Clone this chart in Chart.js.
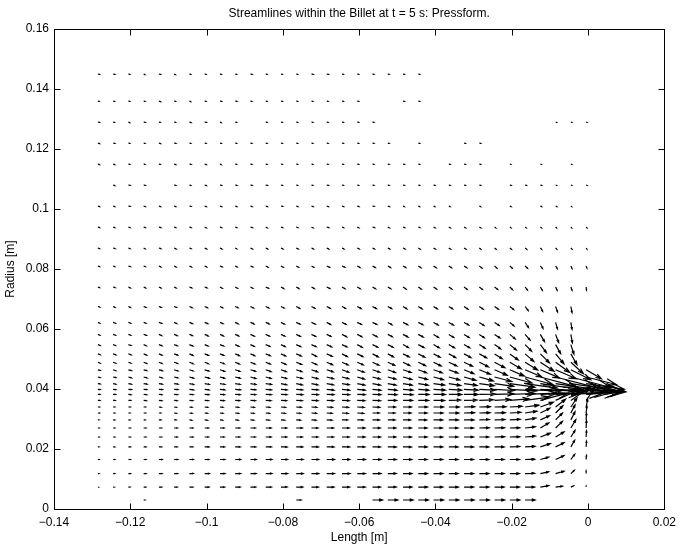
<!DOCTYPE html>
<html>
<head>
<meta charset="utf-8">
<script src="https://cdn.jsdelivr.net/npm/chart.js@4"></script>
<style>
  html, body { margin: 0; padding: 0; background: #fff; }
  #wrap { width: 682px; height: 549px; }
</style>
</head>
<body>
<div id="wrap"><canvas id="quiver" width="682" height="549"></canvas></div>
<script>
const _ = null; // no mesh node here

// mesh columns (length, m) and rows (radius, m)
const xNodes = [-0.1285, -0.1245, -0.1205, -0.1165, -0.1125, -0.1085, -0.1045, -0.1005, -0.0965, -0.0925,
  -0.0885, -0.0845, -0.0805, -0.0765, -0.0725, -0.0685, -0.0645, -0.0605, -0.0565, -0.0525,
  -0.0485, -0.0445, -0.0405, -0.0365, -0.0325, -0.0285, -0.0245, -0.0205, -0.0165, -0.0125,
  -0.0085, -0.0045, -0.0005];
const yRows = [0.145, 0.136, 0.129, 0.122, 0.115, 0.108, 0.101, 0.094, 0.087, 0.081, 0.074,
  0.0675, 0.0622, 0.0582, 0.0548, 0.0517, 0.0489, 0.0464, 0.044, 0.0418, 0.0399, 0.0382,
  0.0362, 0.034, 0.032, 0.0297, 0.027, 0.024, 0.0207, 0.0165, 0.0118, 0.0073, 0.003];

// arrow components as drawn (mm), one row per yRows entry
const U = [
  [.4,.4,.3,.3,.4, .3,.3,.3,.3,.3, .4,.3,.3,.3,.4, .4,.3,.3,.3,.3, .3,.3,_,_,_, _,_,_,_,_, _,_,_],
  [.3,.3,.3,.3,.4, .3,.3,.3,.4,.4, .3,.3,.3,.3,.3, .3,.3,.3,_,_, .3,.3,_,_,_, _,_,_,_,_, _,_,_],
  [.4,.3,.3,.4,.3, .3,.4,.4,.3,.3, _,.3,.3,.3,.3, .3,.3,.3,.3,_, _,_,_,_,_, _,_,_,_,_, .2,.2,.2],
  [.4,.4,.3,.3,.4, .4,.3,.3,.3,.3, .3,.3,.3,.3,.3, .3,.3,.3,.3,.3, _,.3,_,_,.3, .3,_,_,_,_, _,_,_],
  [.4,.4,.3,.3,.3, .4,.4,.4,.3,.3, .3,.3,.3,.3,.3, .3,.3,.3,.3,.3, .3,.3,_,.3,.3, .3,_,.2,_,.2, _,.2,_],
  [_,.4,.4,.4,_, .4,.3,.4,.4,.4, .4,.4,.3,.3,.3, .4,.3,.3,.3,.3, .3,.3,.3,.3,.3, .3,_,.3,.3,.3, .2,.2,.2],
  [.4,.4,.4,.4,.4, .4,.4,.4,.4,.4, .4,.4,.4,.4,.4, .4,.4,.4,.4,.4, .3,.3,.3,.3,_, .3,_,.3,_,.3, .3,.2,_],
  [.4,.4,.4,.4,.5, .4,.4,.4,.4,.4, .5,.4,.4,.4,.4, .5,.4,.4,.5,.4, .4,.4,.4,.4,.4, .4,.3,.3,.3,.3, .2,.2,.2],
  [.4,.5,.4,.4,.5, .5,.4,.5,.5,.4, .5,.5,.5,.5,.5, .5,.5,.5,.5,.5, .5,.5,.5,.5,.5, .4,.4,.4,.4,.3, .3,.3,.2],
  [.4,.4,.5,.4,.5, .5,.5,.5,.6,.5, .6,.6,.6,.6,.6, .7,.7,.7,.7,.7, .7,.7,.7,.7,.7, .7,.6,.6,.6,.5, .4,.3,.2],
  [.4,.5,.5,.5,.5, .5,.6,.6,.6,.6, .6,.7,.7,.7,.7, .8,.8,.8,.8,.8, .8,.8,.8,.8,.8, .8,.8,.7,.6,.5, .4,.3,.1],
  [.5,.5,.5,.6,.6, .6,.7,.7,.7,.7, .8,.8,.8,.9,.9, .9,.9,1.0,1.0,1.0, 1.0,1.0,1.0,1.0,1.0, 1.0,1.0,1.0,.8,.6, .5,.3,_],
  [.5,.6,.6,.6,.7, .7,.8,.8,.8,.8, .9,.9,.9,1.0,1.0, 1.0,1.1,1.1,1.1,1.1, 1.2,1.2,1.2,1.2,1.2, 1.2,1.2,1.1,.9,.7, .5,.3,_],
  [.5,.6,.6,.7,.7, .8,.8,.9,.9,.9, 1.0,1.0,1.0,1.1,1.1, 1.1,1.2,1.2,1.2,1.2, 1.3,1.3,1.3,1.3,1.3, 1.3,1.4,1.4,1.3,1.1, .8,.4,_],
  [.6,.6,.7,.7,.8, .8,.9,.9,1.0,1.0, 1.0,1.1,1.1,1.2,1.2, 1.3,1.3,1.3,1.4,1.4, 1.4,1.5,1.5,1.5,1.5, 1.5,1.6,1.7,1.7,1.6, 1.3,.8,_],
  [.6,.7,.7,.8,.8, .9,.9,1.0,1.0,1.1, 1.1,1.2,1.2,1.3,1.3, 1.4,1.4,1.5,1.5,1.5, 1.6,1.7,1.7,1.8,1.8, 1.9,2.0,2.2,2.3,2.4, 2.2,1.6,_],
  [.6,.7,.7,.8,.8, .9,1.0,1.0,1.1,1.1, 1.2,1.2,1.3,1.4,1.4, 1.5,1.6,1.6,1.7,1.8, 1.8,1.9,2.0,2.1,2.2, 2.4,2.7,3.0,3.3,3.6, 3.7,3.3,_],
  [.6,.7,.8,.8,.9, 1.0,1.0,1.1,1.2,1.2, 1.3,1.4,1.4,1.5,1.6, 1.7,1.8,1.8,1.9,2.0, 2.1,2.2,2.3,2.4,2.6, 2.9,3.3,3.8,4.4,5.0, 5.4,5.2,4.0],
  [.6,.7,.8,.9,.9, 1.0,1.1,1.2,1.2,1.3, 1.4,1.4,1.5,1.6,1.7, 1.8,1.8,1.9,2.0,2.1, 2.3,2.4,2.6,2.9,3.1, 3.7,4.5,5.8,7.3,9.4, 11.0,10.5,7.9],
  [.6,.7,.8,.9,.9, 1.0,1.1,1.2,1.3,1.3, 1.4,1.5,1.5,1.6,1.7, 1.8,1.9,2.0,2.1,2.2, 2.4,2.6,2.9,3.1,3.4, 3.9,5.0,6.6,8.4,11.0, 13.6,13.6,10.0],
  [.6,.7,.8,.8,.9, 1.0,1.1,1.2,1.3,1.4, 1.4,1.5,1.6,1.7,1.8, 1.9,2.0,2.1,2.2,2.4, 2.6,2.8,3.1,3.4,3.7, 4.2,5.2,7.1,9.2,12.1, 15.2,14.4,10.2],
  [.5,.6,.7,.8,.8, .9,1.0,1.1,1.2,1.3, 1.4,1.5,1.6,1.7,1.8, 1.9,2.0,2.1,2.2,2.4, 2.6,2.8,3.1,3.4,3.7, 4.2,5.0,6.6,8.4,11.0, 13.1,13.1,9.4],
  [.5,.5,.6,.7,.8, .8,.9,1.0,1.1,1.2, 1.3,1.4,1.5,1.6,1.7, 1.8,1.9,2.0,2.1,2.3, 2.5,2.7,2.9,3.1,3.4, 3.7,4.2,5.0,6.3,7.1, 6.7,5.2,2.1],
  [.4,.4,.5,.5,.6, .6,.7,.8,.8,.9, 1.0,1.1,1.2,1.3,1.4, 1.5,1.7,1.8,1.9,2.0, 2.2,2.4,2.6,2.7,2.8, 2.9,3.0,3.2,3.6,3.4, 2.6,1.6,.4],
  [.4,.4,.4,.5,.5, .6,.7,.7,.8,.9, .9,1.0,1.1,1.2,1.3, 1.4,1.6,1.7,1.8,1.9, 2.1,2.3,2.5,2.6,2.7, 2.8,2.8,2.9,3.1,2.5, 1.9,1.1,.2],
  [.3,.4,.4,.4,.5, .5,.6,.7,.7,.8, .9,1.0,1.0,1.1,1.2, 1.4,1.5,1.6,1.8,1.9, 2.0,2.2,2.4,2.5,2.6, 2.6,2.7,2.7,2.8,2.4, 1.8,1.1,.1],
  [.3,.4,.5,.6,.7, .8,.9,1.0,1.1,1.2, 1.3,1.4,1.5,1.6,1.7, 1.8,1.9,2.0,2.0,2.1, 2.2,2.3,2.3,2.4,2.5, 2.6,2.6,2.6,2.7,2.2, 1.8,1.3,.1],
  [.3,.4,.5,.6,.7, .8,.9,1.0,1.1,1.2, 1.3,1.4,1.5,1.6,1.7, 1.8,1.9,2.0,2.1,2.1, 2.2,2.3,2.4,2.4,2.5, 2.5,2.6,2.6,2.7,2.6, 2.2,1.1,.1],
  [.3,.4,.5,.6,.7, .8,.9,1.1,1.2,1.3, 1.4,1.5,1.6,1.7,1.8, 1.9,2.0,2.0,2.1,2.2, 2.2,2.3,2.4,2.4,2.5, 2.5,2.5,2.6,2.6,2.6, 2.2,1.0,.1],
  [.3,.4,.5,.6,.8, .9,1.0,1.1,1.3,1.4, 1.5,1.6,1.7,1.8,1.9, 2.0,2.0,2.1,2.2,2.2, 2.3,2.3,2.4,2.4,2.5, 2.5,2.5,2.5,2.5,2.2, 2.2,1.0,.1],
  [.3,.4,.5,.6,.8, .9,1.0,1.2,1.3,1.4, 1.5,1.6,1.7,1.8,1.9, 2.0,2.1,2.1,2.2,2.2, 2.3,2.4,2.4,2.4,2.5, 2.5,2.5,2.5,2.5,2.2, 2.2,.9,0],
  [.2,.3,.4,.5,.7, .8,.9,1.1,1.2,1.3, 1.4,1.5,1.6,1.7,1.8, 1.9,2.0,2.1,2.1,2.2, 2.3,2.4,2.4,2.5,2.5, 2.5,2.5,2.5,2.5,2.2, 1.8,.7,0],
  [_,_,_,.3,_, _,_,_,_,_, _,_,_,1.3,_, _,_,_,2.6,2.6, 2.6,2.6,2.6,2.6,2.6, 2.6,2.6,2.6,2.6,_, _,_,_]
];
const V = [
  [-.1,-.1,-.1,-.2,-.1, -.2,-.1,-.1,-.1,-.1, -.1,-.1,-.1,-.1,-.1, -.1,-.1,-.1,-.1,-.1, -.1,-.1,_,_,_, _,_,_,_,_, _,_,_],
  [-.1,-.1,-.1,-.1,-.2, -.1,-.2,-.1,-.1,-.1, -.1,-.1,-.1,-.1,-.1, -.1,-.1,-.1,_,_, -.1,-.1,_,_,_, _,_,_,_,_, _,_,_],
  [-.1,-.1,-.2,-.1,-.1, -.1,-.2,-.1,-.2,-.1, _,-.1,-.1,-.1,-.1, -.1,-.1,-.1,-.1,_, _,_,_,_,_, _,_,_,_,_, -.1,-.1,-.1],
  [-.2,-.1,-.1,-.1,-.2, -.1,-.1,-.1,-.1,-.1, -.1,-.1,-.1,-.1,-.1, -.1,-.1,-.1,-.1,-.1, _,-.1,_,_,-.1, -.1,_,_,_,_, _,_,_],
  [-.2,-.2,-.1,-.1,-.1, -.2,-.1,-.2,-.2,-.1, -.1,-.1,-.1,-.1,-.1, -.1,-.1,-.1,-.1,-.1, -.1,-.1,_,-.1,-.1, -.1,_,-.1,_,-.1, _,-.1,_],
  [_,-.2,-.1,-.1,_, -.1,-.1,-.2,-.1,-.1, -.1,-.1,-.1,-.1,-.1, -.1,-.1,-.1,-.1,-.1, -.1,-.1,-.1,-.1,-.1, -.1,_,-.1,-.1,-.1, -.1,-.1,-.1],
  [-.2,-.2,-.1,-.2,-.2, -.2,-.1,-.2,-.2,-.2, -.2,-.2,-.1,-.2,-.2, -.2,-.2,-.2,-.1,-.2, -.2,-.2,-.2,-.2,_, -.2,_,-.2,_,-.2, -.2,-.2,_],
  [-.2,-.2,-.2,-.2,-.2, -.2,-.2,-.3,-.2,-.2, -.2,-.3,-.2,-.2,-.3, -.2,-.2,-.3,-.2,-.3, -.2,-.2,-.3,-.3,-.3, -.3,-.3,-.3,-.3,-.3, -.3,-.3,-.3],
  [-.2,-.2,-.2,-.3,-.2, -.3,-.2,-.3,-.3,-.3, -.3,-.3,-.3,-.3,-.3, -.3,-.3,-.3,-.3,-.3, -.3,-.4,-.4,-.4,-.4, -.4,-.4,-.4,-.4,-.4, -.4,-.4,-.4],
  [-.2,-.2,-.2,-.2,-.3, -.3,-.3,-.3,-.3,-.3, -.3,-.4,-.4,-.4,-.4, -.4,-.4,-.5,-.5,-.5, -.5,-.6,-.6,-.6,-.6, -.7,-.7,-.7,-.7,-.8, -.8,-.8,-.7],
  [-.2,-.2,-.3,-.3,-.3, -.3,-.3,-.3,-.4,-.4, -.4,-.4,-.5,-.5,-.5, -.5,-.6,-.6,-.6,-.6, -.7,-.7,-.7,-.7,-.8, -.8,-.8,-.9,-1.0,-1.1, -1.1,-1.1,-1.0],
  [-.2,-.3,-.3,-.3,-.3, -.3,-.4,-.4,-.4,-.4, -.5,-.5,-.5,-.6,-.6, -.6,-.6,-.7,-.7,-.7, -.8,-.8,-.8,-.8,-.9, -.9,-.9,-1.0,-1.3,-1.6, -1.8,-2.0,_],
  [-.3,-.3,-.3,-.3,-.3, -.4,-.4,-.4,-.4,-.5, -.5,-.5,-.6,-.6,-.6, -.7,-.7,-.7,-.7,-.8, -.8,-.8,-.9,-.9,-.9, -1.0,-1.0,-1.2,-1.7,-2.0, -2.2,-2.3,_],
  [-.3,-.3,-.3,-.3,-.4, -.4,-.4,-.5,-.5,-.5, -.6,-.6,-.6,-.7,-.7, -.7,-.8,-.8,-.8,-.8, -.9,-.9,-1.0,-1.0,-1.0, -1.1,-1.2,-1.5,-1.9,-2.4, -2.7,-2.8,_],
  [-.3,-.3,-.3,-.4,-.4, -.4,-.5,-.5,-.5,-.6, -.6,-.6,-.7,-.7,-.7, -.8,-.8,-.9,-.9,-.9, -1.0,-1.0,-1.1,-1.1,-1.1, -1.2,-1.4,-1.8,-2.2,-2.7, -3.0,-3.2,_],
  [-.3,-.3,-.3,-.4,-.4, -.4,-.5,-.5,-.5,-.6, -.6,-.6,-.7,-.7,-.8, -.8,-.9,-.9,-1.0,-1.0, -1.0,-1.1,-1.1,-1.2,-1.2, -1.3,-1.6,-2.0,-2.5,-3.0, -3.3,-3.6,_],
  [-.3,-.3,-.3,-.4,-.4, -.4,-.5,-.5,-.5,-.6, -.6,-.6,-.7,-.7,-.8, -.8,-.9,-.9,-1.0,-1.0, -1.1,-1.1,-1.2,-1.2,-1.3, -1.5,-1.8,-2.2,-2.6,-3.0, -3.4,-3.8,_],
  [-.2,-.3,-.3,-.3,-.3, -.4,-.4,-.4,-.5,-.5, -.5,-.6,-.6,-.6,-.7, -.7,-.8,-.8,-.8,-.9, -.9,-1.0,-1.0,-1.1,-1.3, -1.5,-1.8,-2.1,-2.4,-2.7, -3.0,-3.3,-3.0],
  [-.2,-.2,-.3,-.3,-.3, -.3,-.4,-.4,-.4,-.4, -.5,-.5,-.5,-.5,-.6, -.6,-.6,-.7,-.7,-.7, -.8,-.8,-.9,-1.0,-1.1, -1.3,-1.5,-2.0,-2.5,-3.2, -3.6,-3.5,-2.5],
  [-.1,-.2,-.2,-.2,-.2, -.2,-.3,-.3,-.3,-.3, -.3,-.3,-.4,-.4,-.4, -.4,-.4,-.5,-.5,-.5, -.5,-.5,-.5,-.6,-.6, -.7,-.9,-1.2,-1.5,-2.0, -2.5,-2.6,-1.9],
  [-.1,-.1,-.1,-.1,-.1, -.1,-.2,-.2,-.2,-.2, -.2,-.2,-.2,-.2,-.2, -.3,-.3,-.3,-.3,-.3, -.3,-.3,-.3,-.3,-.3, -.3,-.4,-.5,-.6,-.8, -.9,-.9,-.7],
  [0,0,-.1,-.1,-.1, -.1,-.1,-.1,-.1,-.1, -.1,-.1,-.1,-.1,-.1, -.1,-.1,-.1,-.1,-.1, -.1,0,0,0,0, .1,.2,.3,.4,.6, .7,.8,.8],
  [0,0,0,-.1,-.1, -.1,-.1,-.1,-.1,-.1, -.1,-.1,-.1,-.1,-.1, -.1,-.1,-.1,-.1,0, 0,0,0,.1,.1, .2,.3,.5,1.1,2.4, 3.9,4.6,3.8],
  [0,0,0,0,-.1, -.1,-.1,-.1,-.1,-.1, -.1,-.1,-.1,-.1,-.1, -.1,-.1,-.1,-.1,0, 0,0,0,0,.1, .1,.1,.2,.6,1.6, 2.6,3.0,2.6],
  [0,0,0,0,0, -.1,-.1,-.1,-.1,-.1, -.1,-.1,-.1,-.1,-.1, -.1,-.1,-.1,0,0, 0,0,0,0,.1, .1,.1,.2,.6,1.6, 2.4,2.7,2.3],
  [0,0,0,0,0, 0,-.1,-.1,-.1,-.1, -.1,-.1,-.1,-.1,-.1, -.1,0,0,0,0, 0,0,0,0,0, .1,.1,.2,.6,1.4, 2.3,2.7,2.2],
  [0,0,0,0,0, 0,0,0,0,0, 0,0,0,0,0, 0,0,0,0,0, 0,0,0,0,0, .1,.1,.1,.4,1.7, 2.2,2.8,2.5],
  [0,0,0,0,0, 0,0,0,0,0, 0,0,0,0,0, 0,0,0,0,0, 0,0,0,0,0, 0,.1,.1,.3,1.3, 1.7,2.2,2.1],
  [0,0,0,0,0, 0,0,0,0,0, 0,0,0,0,0, 0,0,0,0,0, 0,0,0,0,0, 0,0,.1,.2,1.1, 1.4,2.2,1.9],
  [0,0,0,0,0, 0,0,0,0,0, 0,0,0,0,0, 0,0,0,0,0, 0,0,0,0,0, 0,0,0,.1,.8, 1.3,1.7,1.4],
  [0,0,0,0,0, 0,0,0,0,0, 0,0,0,0,0, 0,0,0,0,0, 0,0,0,0,0, 0,0,0,.1,.6, .8,1.1,.9],
  [0,0,0,0,0, 0,0,0,0,0, 0,0,0,0,0, 0,0,0,0,0, 0,0,0,0,0, 0,0,0,0,.5, .3,.4,.3],
  [_,_,_,0,_, _,_,_,_,_, _,_,_,0,_, _,_,_,0,0, 0,0,0,0,0, 0,0,0,0,_, _,_,_]
];

const xTicks = [-0.14, -0.12, -0.1, -0.08, -0.06, -0.04, -0.02, 0, 0.02];
const xTickLabels = ["\u22120.14", "\u22120.12", "\u22120.1", "\u22120.08", "\u22120.06", "\u22120.04", "\u22120.02", "0", "0.02"];
const yTicks = [0, 0.02, 0.04, 0.06, 0.08, 0.1, 0.12, 0.14, 0.16];
const yTickLabels = ["0", "0.02", "0.04", "0.06", "0.08", "0.1", "0.12", "0.14", "0.16"];

const chartTitle = "Streamlines within the Billet at t = 5 s: Pressform.";
const FONT = "'Liberation Sans', Arial, Helvetica, sans-serif";

// arrow tails with their components
const nodes = [];
yRows.forEach(function (y, r) {
  xNodes.forEach(function (x, k) {
    const u = U[r][k], v = V[r][k];
    if (u === null || v === null || u === undefined || v === undefined) return;
    nodes.push({ x: x, y: y, u: u, v: v });
  });
});

// MATLAB-like quiver arrows plus the boxed axes with inward ticks
const quiverPlugin = {
  id: "quiver",
  afterDatasetsDraw(chart) {
    const ctx = chart.ctx;
    const xs = chart.scales.x, ys = chart.scales.y;
    const alpha = 0.33, beta = 0.33;
    ctx.save();
    ctx.strokeStyle = "#000";
    ctx.lineWidth = 1.2;
    chart.data.datasets[0].data.forEach(function (p) {
      const x0 = xs.getPixelForValue(p.x), y0 = ys.getPixelForValue(p.y);
      const x1 = xs.getPixelForValue(p.x + p.u * 0.001);
      const y1 = ys.getPixelForValue(p.y + p.v * 0.001);
      const du = x1 - x0, dv = y1 - y0;
      ctx.beginPath();
      ctx.moveTo(x0, y0);
      ctx.lineTo(x1, y1);
      ctx.moveTo(x1 - alpha * (du + beta * dv), y1 - alpha * (dv - beta * du));
      ctx.lineTo(x1, y1);
      ctx.lineTo(x1 - alpha * (du - beta * dv), y1 - alpha * (dv + beta * du));
      ctx.stroke();
    });
    ctx.restore();
  },
  afterDraw(chart) {
    const ctx = chart.ctx;
    const xs = chart.scales.x, ys = chart.scales.y;
    const a = chart.chartArea;
    const L = Math.round(a.left) + 0.5, R = Math.round(a.right) + 0.5;
    const T = Math.round(a.top) + 0.5, B = Math.round(a.bottom) + 0.5;
    const tick = 6;
    ctx.save();
    ctx.strokeStyle = "#000";
    ctx.lineWidth = 1;
    ctx.strokeRect(L, T, R - L, B - T);
    ctx.beginPath();
    xTicks.forEach(function (v) {
      const px = Math.round(xs.getPixelForValue(v)) + 0.5;
      ctx.moveTo(px, B); ctx.lineTo(px, B - tick);
      ctx.moveTo(px, T); ctx.lineTo(px, T + tick);
    });
    yTicks.forEach(function (v) {
      const py = Math.round(ys.getPixelForValue(v)) + 0.5;
      ctx.moveTo(L, py); ctx.lineTo(L + tick, py);
      ctx.moveTo(R, py); ctx.lineTo(R - tick, py);
    });
    ctx.stroke();
    // title centred over the axes box
    ctx.fillStyle = "#000";
    ctx.font = "12px " + FONT;
    ctx.textAlign = "center";
    ctx.textBaseline = "middle";
    ctx.fillText(chartTitle, (a.left + a.right) / 2, 14);
    ctx.restore();
  }
};

new Chart(document.getElementById("quiver"), {
  type: "scatter",
  data: {
    datasets: [{
      data: nodes,
      pointRadius: 0,
      pointHoverRadius: 0,
      showLine: false
    }]
  },
  options: {
    responsive: false,
    animation: false,
    devicePixelRatio: 1,
    layout: { padding: { top: 29, right: 17, bottom: 0, left: 0 } },
    plugins: {
      legend: { display: false },
      tooltip: { enabled: false }
    },
    scales: {
      x: {
        type: "linear",
        min: -0.14,
        max: 0.02,
        afterBuildTicks: function (s) { s.ticks = xTicks.map(function (v) { return { value: v }; }); },
        afterFit: function (s) { s.height = 40; },
        grid: { display: false, drawTicks: false },
        border: { display: false },
        ticks: {
          padding: 6,
          color: "#000",
          autoSkip: false,
          maxRotation: 0,
          font: { family: FONT, size: 12 },
          callback: function (v, i) { return xTickLabels[i]; }
        },
        title: {
          display: true,
          text: "Length [m]",
          color: "#000",
          font: { family: FONT, size: 12 },
          padding: { top: 0, bottom: 4 }
        }
      },
      y: {
        type: "linear",
        min: 0,
        max: 0.16,
        afterBuildTicks: function (s) { s.ticks = yTicks.map(function (v) { return { value: v }; }); },
        afterFit: function (s) { s.width = 54; },
        grid: { display: false, drawTicks: false },
        border: { display: false },
        ticks: {
          padding: 5,
          color: "#000",
          autoSkip: false,
          font: { family: FONT, size: 12 },
          callback: function (v, i) { return yTickLabels[i]; }
        },
        title: {
          display: true,
          text: "Radius [m]",
          color: "#000",
          font: { family: FONT, size: 12 },
          padding: { top: 3, bottom: 0 }
        }
      }
    }
  },
  plugins: [quiverPlugin]
});
</script>
</body>
</html>
